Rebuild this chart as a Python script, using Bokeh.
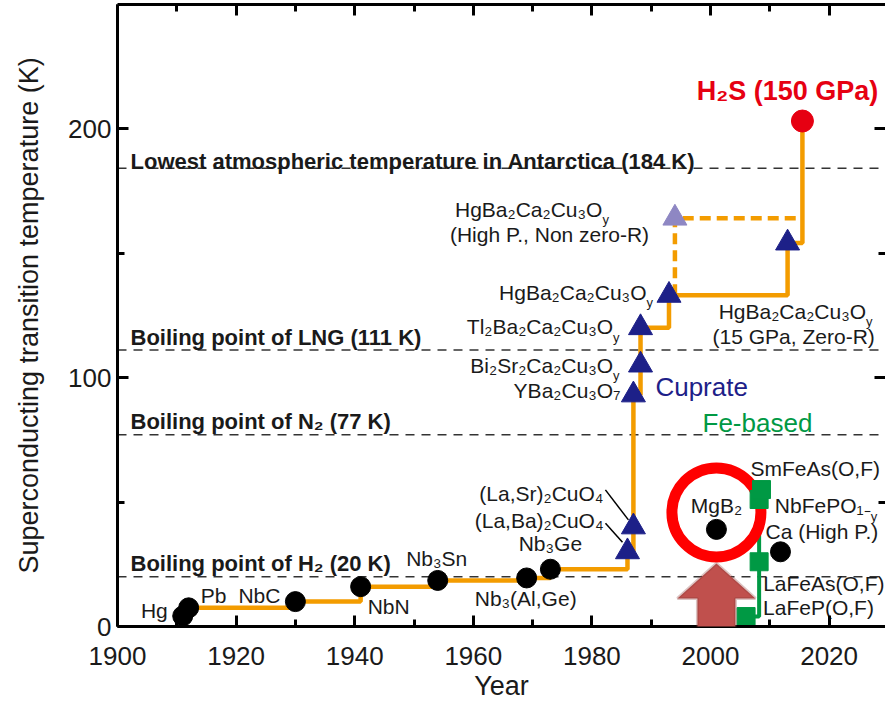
from bokeh.plotting import figure
from bokeh.models import FixedTicker, LinearAxis, Span, PolyAnnotation
from bokeh.core.properties import value
from bokeh.embed import file_html
from bokeh.resources import INLINE

# ---------------- data ----------------
conv_names = ["Hg", "Pb", "NbC", "NbN", "Nb₃Sn", "Nb₃(Al,Ge)", "Nb₃Ge"]
conv_years = [1911, 1912, 1930, 1941, 1954, 1969, 1973]
conv_tc = [4.2, 7.5, 10, 16, 18.5, 19.5, 23]

cup_names = ["(La,Ba)₂CuO₄", "(La,Sr)₂CuO₄", "YBa₂Cu₃O₇", "Bi₂Sr₂Ca₂Cu₃O", "Tl₂Ba₂Ca₂Cu₃O",
             "HgBa₂Ca₂Cu₃O", "HgBa₂Ca₂Cu₃O"]
cup_years = [1986, 1987, 1987, 1988.2, 1988.2, 1993, 2013]
cup_tc = [30, 40, 93, 105, 120, 133, 154]
cup_note = "(15 GPa, Zero-R)"

hp_name = "HgBa₂Ca₂Cu₃O"
hp_note = "(High P., Non zero-R)"
hp_year = [1994]
hp_tc = [164]

h2s_name = "H₂S (150 GPa)"
h2s_year = [2015.5]
h2s_tc = [203]

mgb2_name = "MgB₂"
mgb2_year = [2001]
mgb2_tc = [39]

ca_name = "Ca (High P.)"
ca_year = [2011.8]
ca_tc = [30]

fe_names = ["LaFeP(O,F)", "LaFeAs(O,F)", "NbFePO₁₋", "SmFeAs(O,F)"]
fe_years = [2006, 2008.2, 2008.2, 2008.6]
fe_tc = [4, 26, 51, 55]

ref_names = ["Lowest atmospheric temperature in Antarctica (184 K)",
             "Boiling point of LNG (111 K)",
             "Boiling point of N₂ (77 K)",
             "Boiling point of H₂ (20 K)"]
ref_tc = [184, 111, 77, 20]

x_ticks = [1900, 1920, 1940, 1960, 1980, 2000, 2020]
x_minor = [1910, 1930, 1950, 1970, 1990, 2010]
y_ticks = [0, 100, 200]
y_minor = [50, 150]

# ---------------- style / layout ----------------
FONT = "Liberation Sans"
TXT = "#1a1a1a"
ORANGE = "#f39c00"
NAVY = "#1d2088"
LAV = "#8e87c3"
GREEN = "#009944"
RED = "#e60012"
RING = "#ff0000"

W, H = 885, 704
BL, BR, BT, BB = 117, 0, 4, 78
FW = W - BL - BR
FH = H - BT - BB
PX_YR = 5.93
PX_K = 2.49
X0 = 1900
X1 = X0 + FW / PX_YR
Y1 = FH / PX_K

p = figure(width=W, height=H, x_range=(X0, X1), y_range=(0, Y1),
           output_backend="svg", toolbar_location=None,
           min_border_left=BL, min_border_right=BR, min_border_top=BT, min_border_bottom=BB)
p.grid.visible = False
p.outline_line_color = None
p.background_fill_color = "white"


def style_axis(ax, labels=True, line=True):
    ax.axis_line_width = 3
    ax.axis_line_color = "black" if line else None
    ax.major_tick_in = 11
    ax.major_tick_out = 0
    ax.minor_tick_in = 7
    ax.minor_tick_out = 0
    ax.major_tick_line_width = 3
    ax.minor_tick_line_width = 3
    ax.major_tick_line_color = "black"
    ax.minor_tick_line_color = "black"
    ax.major_label_text_font = FONT
    ax.axis_label_text_font = FONT
    ax.axis_label_text_font_style = "normal"
    ax.major_label_text_color = TXT
    ax.axis_label_text_color = TXT
    if labels:
        ax.major_label_text_font_size = "26px"
        ax.axis_label_text_font_size = "27px"
    else:
        ax.major_label_text_font_size = "0px"
        ax.major_label_text_alpha = 0
        ax.major_label_standoff = 0


xt = FixedTicker(ticks=x_ticks, minor_ticks=x_minor)
yt = FixedTicker(ticks=y_ticks, minor_ticks=y_minor)

p.xaxis.ticker = xt
p.yaxis.ticker = yt
style_axis(p.xaxis[0])
style_axis(p.yaxis[0])
p.xaxis.axis_label = "Year"
p.yaxis.axis_label = "Superconducting transition temperature (K)"
p.xaxis.major_label_standoff = 20
p.xaxis.axis_label_standoff = 3
p.yaxis.major_label_standoff = 6
p.yaxis.axis_label_standoff = 21

top = LinearAxis(ticker=FixedTicker(ticks=x_ticks, minor_ticks=x_minor))
style_axis(top, labels=False)
p.add_layout(top, "above")
right = LinearAxis(ticker=FixedTicker(ticks=y_ticks, minor_ticks=y_minor))
style_axis(right, labels=False, line=False)
p.add_layout(right, "right")

# reference dashed lines
REF_GAP = [7, 13, 13, 13]
for name, tc, gap in zip(ref_names, ref_tc, REF_GAP):
    p.add_layout(Span(location=tc, dimension="width", line_color="#333333",
                      line_width=1.5, line_dash="9 7", level="underlay"))
    p.text(x=[X0], y=[tc], text=[name], x_offset=13, y_offset=-gap,
           text_align="left", text_baseline="alphabetic", text_font=value(FONT),
           text_font_size="22px", text_font_style="bold", text_color=TXT)

# record step line
rec_x = conv_years[1:] + cup_years + h2s_year
rec_y = conv_tc[1:] + cup_tc + h2s_tc
p.step(rec_x, rec_y, mode="after", line_color=ORANGE, line_width=4.5)
# dashed high pressure branch
p.line([hp_year[0], hp_year[0], h2s_year[0]], [cup_tc[5], hp_tc[0], hp_tc[0]],
       line_color=ORANGE, line_width=4.5, line_dash="11 6")
# Fe-based step line
p.step(fe_years, fe_tc, mode="after", line_color=GREEN, line_width=4)

# MgB2 ring and arrow
RING_DY_PX = 17
p.scatter(mgb2_year, [mgb2_tc[0] + RING_DY_PX / PX_K], marker="circle", size=89,
          fill_color=None, line_color=RING, line_width=11)
TIP_PX, NECK_PX = 34, 69
HEAD_PX, SHAFT_PX = 39, 19
cx = mgb2_year[0]
tip = mgb2_tc[0] - TIP_PX / PX_K
neck = mgb2_tc[0] - NECK_PX / PX_K
bot = -6 / PX_K
hh, sh = HEAD_PX / PX_YR, SHAFT_PX / PX_YR
p.add_layout(PolyAnnotation(xs=[cx, cx + hh, cx + sh, cx + sh, cx - sh, cx - sh, cx - hh],
                            ys=[tip, neck, neck, bot, bot, neck, neck],
                            fill_color="#c0504d", fill_alpha=1, line_color="#8c3a38",
                            line_width=3, level="overlay"))

# markers
p.scatter(conv_years, conv_tc, marker="circle", size=20, color="black")
p.scatter(mgb2_year, mgb2_tc, marker="circle", size=20, color="black")
p.scatter(ca_year, ca_tc, marker="circle", size=20, color="black")
p.scatter(cup_years, cup_tc, marker="triangle", size=24, color=NAVY)
p.scatter(hp_year, hp_tc, marker="triangle", size=24, color=LAV)
p.scatter(fe_years, fe_tc, marker="square", size=18, color=GREEN)
p.scatter(h2s_year, h2s_tc, marker="circle", size=22, color=RED)


def lab(txt, x, y, dx, dy, align="left", size="21px", color=TXT, style="normal"):
    p.text(x=[x], y=[y], text=[txt], x_offset=dx, y_offset=dy, text_align=align,
           text_baseline="middle", text_font=value(FONT), text_font_size=size,
           text_color=color, text_font_style=style)


def lab_y(txt, x, y, dx_end, dy):
    """label ending in a subscript y, right edge at dx_end"""
    lab(txt, x, y, dx_end - 6.5, dy, align="right")
    p.text(x=[x], y=[y], text=["y"], x_offset=dx_end - 6.5, y_offset=dy + 10.5,
           text_align="left", text_baseline="alphabetic", text_font=value(FONT),
           text_font_size="13px", text_color=TXT)


conv_off = [(-15, -6, "right"), (12, -12, "left"), (-15, -6, "right"), (7, 20, "left"),
            (-1, -22, "center"), (-1, 21, "center"), (0, -26, "center")]
for n, x, y, (dx, dy, al) in zip(conv_names, conv_years, conv_tc, conv_off):
    lab(n, x, y, dx, dy, al)

# cuprate labels
lab(cup_names[0], cup_years[0], cup_tc[0], -24, -31, "right")
lab(cup_names[1], cup_years[1], cup_tc[1], -30, -33, "right")
lab(cup_names[2], cup_years[2], cup_tc[2], -13, -4, "right")
lab_y(cup_names[3], cup_years[3], cup_tc[3], -21, 0)
lab_y(cup_names[4], cup_years[4], cup_tc[4], -21, -1)
lab_y(cup_names[5], cup_years[5], cup_tc[5], -16, -3)
lab_y(cup_names[6], cup_years[6], cup_tc[6], 85, 68)
lab(cup_note, cup_years[6], cup_tc[6], -75, 93, "left")
lab_y(hp_name, hp_year[0], hp_tc[0], -66, -9)
lab(hp_note, hp_year[0], hp_tc[0], -225, 16, "left")

# leader lines for La compounds
LEAD = [((-22, -28.5), (-5, -9.5)), ((-28, -37), (-5, -7))]
for i, ((ax0, ay0), (ax1, ay1)) in enumerate(LEAD):
    p.segment(x0=[cup_years[i] + ax0 / PX_YR], y0=[cup_tc[i] - ay0 / PX_K],
              x1=[cup_years[i] + ax1 / PX_YR], y1=[cup_tc[i] - ay1 / PX_K],
              line_color="black", line_width=1.5)

lab(h2s_name, h2s_year[0], h2s_tc[0], -15, -30, "center", "27px", RED, "bold")
lab(mgb2_name, mgb2_year[0], mgb2_tc[0], 0, -24, "center")
lab(ca_name, ca_year[0], ca_tc[0], -15, -20, "left")

lab(fe_names[0], fe_years[0], fe_tc[0], 17, -9, "left")
lab(fe_names[1], fe_years[1], fe_tc[1], 4, 22, "left")
lab_y(fe_names[2], fe_years[2], fe_tc[2], 118, 6)
lab(fe_names[3], fe_years[3], fe_tc[3], -11, -21, "left")

lab("Cuprate", cup_years[2], cup_tc[2], 22, -8, "left", "26px", NAVY)
lab("Fe-based", fe_years[3], fe_tc[3], -59, -67, "left", "26px", GREEN)

open("out.html", "w").write(file_html(p, INLINE))
